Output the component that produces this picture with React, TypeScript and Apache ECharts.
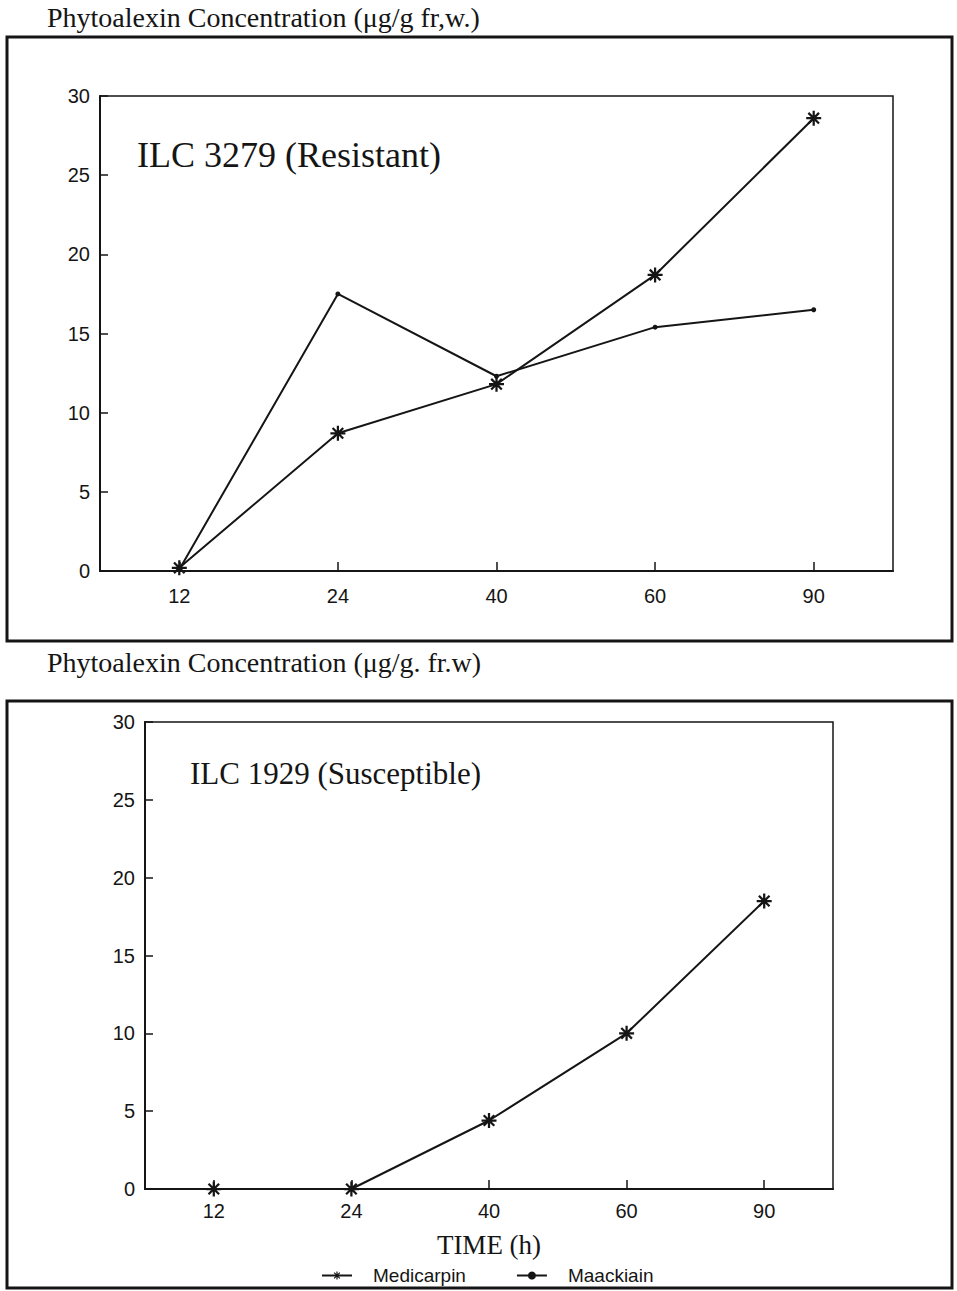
import React, { useEffect, useRef } from "react";
import * as echarts from "echarts";

const categories = ["12", "24", "40", "60", "90"];
const resistantMedicarpin = [0.2, 8.7, 11.8, 18.7, 28.6];
const resistantMaackiain = [0.1, 17.5, 12.3, 15.4, 16.5];
const susceptibleMedicarpin = [0, 0, 4.4, 10.0, 18.5];
const yMin = 0;
const yMax = 30;
const yStep = 5;

const headerTop = "Phytoalexin Concentration (\u03bcg/g fr,w.)";
const headerBottom = "Phytoalexin Concentration (\u03bcg/g. fr.w)";
const titleTop = "ILC 3279 (Resistant)";
const titleBottom = "ILC 1929 (Susceptible)";
const xName = "TIME (h)";

const STAR =
  "path://M-1.5,-10L1.5,-10L1.5,10L-1.5,10Z M10,-1.5L10,1.5L-10,1.5L-10,-1.5Z M6.01,-8.13L8.13,-6.01L-6.01,8.13L-8.13,6.01Z M-8.13,-6.01L-6.01,-8.13L8.13,6.01L6.01,8.13Z";

const INK = "#151515";

export default function App() {
  const ref = useRef<HTMLDivElement>(null);
  useEffect(() => {
    if (!ref.current) return;
    const chart = echarts.init(ref.current, null, { renderer: "svg" });
    const tickFont = { color: INK, fontFamily: "Liberation Sans", fontSize: 20 };
    const xAxisBase = (gridIndex: number, margin: number) => ({
      type: "category" as const,
      gridIndex,
      data: categories,
      boundaryGap: true,
      axisLine: { show: true, lineStyle: { color: INK, width: 2 } },
      axisTick: { show: true, inside: true, alignWithLabel: true, length: 9, lineStyle: { color: INK, width: 1.5 } },
      axisLabel: { ...tickFont, margin },
      splitLine: { show: false },
    });
    const yAxisBase = (gridIndex: number) => ({
      type: "value" as const,
      gridIndex,
      min: yMin,
      max: yMax,
      interval: yStep,
      axisLine: { show: true, lineStyle: { color: INK, width: 2 } },
      axisTick: { show: true, inside: true, length: 8, lineStyle: { color: INK, width: 1.5 } },
      axisLabel: { ...tickFont, margin: 10 },
      splitLine: { show: false },
    });
    chart.setOption({
      animation: false,
      backgroundColor: "#ffffff",
      grid: [
        { left: 100, top: 96, width: 793, height: 475, show: true, borderColor: INK, borderWidth: 1.5, backgroundColor: "transparent" },
        { left: 145, top: 722, width: 688, height: 467, show: true, borderColor: INK, borderWidth: 1.5, backgroundColor: "transparent" },
      ],
      xAxis: [
        xAxisBase(0, 15),
        {
          ...xAxisBase(1, 12),
          name: xName,
          nameLocation: "middle",
          nameGap: 42,
          nameTextStyle: { color: INK, fontFamily: "Liberation Serif", fontSize: 27 },
        },
      ],
      yAxis: [yAxisBase(0), yAxisBase(1)],
      legend: {
        left: 316,
        top: 1261,
        itemWidth: 30,
        itemHeight: 10,
        itemGap: 50,
        data: ["Medicarpin", "Maackiain"],
        textStyle: { color: INK, fontFamily: "Liberation Sans", fontSize: 19, padding: [0, 0, 0, 16] },
      },
      series: [
        {
          name: "Medicarpin",
          type: "line",
          xAxisIndex: 0,
          yAxisIndex: 0,
          data: resistantMedicarpin,
          symbol: STAR,
          symbolSize: 15,
          itemStyle: { color: INK },
          lineStyle: { color: INK, width: 2 },
        },
        {
          name: "Maackiain",
          type: "line",
          xAxisIndex: 0,
          yAxisIndex: 0,
          data: resistantMaackiain,
          symbol: "circle",
          symbolSize: 5,
          itemStyle: { color: INK },
          lineStyle: { color: INK, width: 2 },
        },
        {
          name: "Medicarpin",
          type: "line",
          xAxisIndex: 1,
          yAxisIndex: 1,
          data: susceptibleMedicarpin,
          symbol: STAR,
          symbolSize: 15,
          itemStyle: { color: INK },
          lineStyle: { color: INK, width: 2 },
        },
      ],
      graphic: [
        { type: "rect", shape: { x: 7, y: 37, width: 945, height: 604 }, style: { fill: "none", stroke: INK, lineWidth: 3 }, z: 10 },
        { type: "rect", shape: { x: 7, y: 701, width: 945, height: 587 }, style: { fill: "none", stroke: INK, lineWidth: 3 }, z: 10 },
        { type: "text", x: 47, y: 17, style: { text: headerTop, fill: INK, font: "28px 'Liberation Serif'", textVerticalAlign: "middle" } },
        { type: "text", x: 47, y: 662, style: { text: headerBottom, fill: INK, font: "28px 'Liberation Serif'", textVerticalAlign: "middle" } },
        { type: "text", x: 137, y: 155, style: { text: titleTop, fill: INK, font: "36px 'Liberation Serif'", textVerticalAlign: "middle" } },
        { type: "text", x: 190, y: 773, style: { text: titleBottom, fill: INK, font: "31px 'Liberation Serif'", textVerticalAlign: "middle" } },
      ],
    });
    return () => chart.dispose();
  }, []);
  return <div ref={ref} style={{ position: "absolute", left: 0, top: 0, width: 957, height: 1291 }} />;
}
